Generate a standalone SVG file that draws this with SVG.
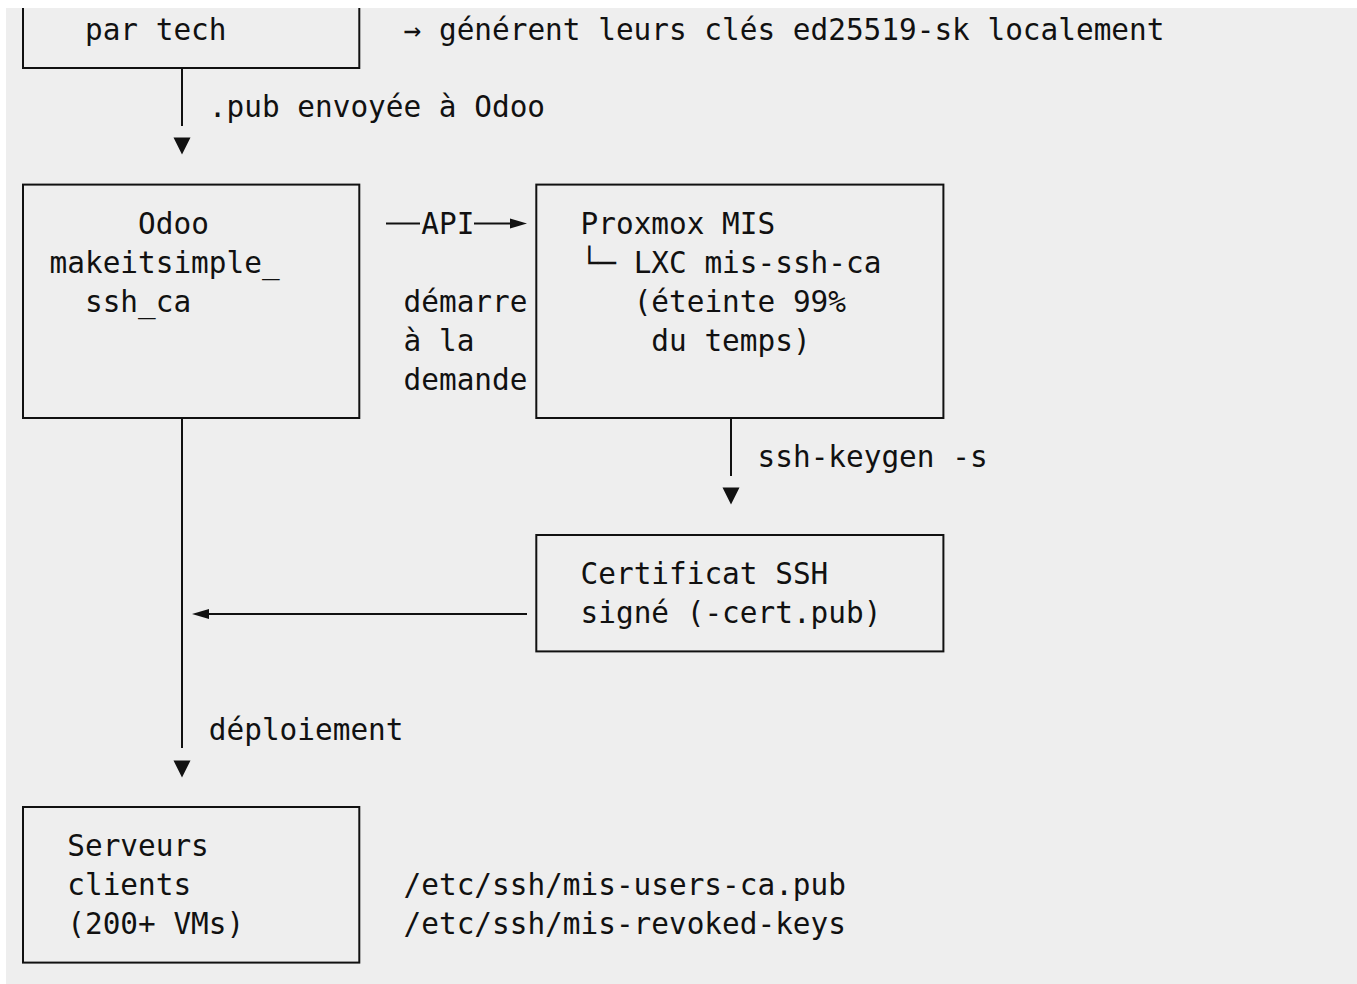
<svg xmlns="http://www.w3.org/2000/svg" width="1357" height="984" viewBox="0 0 1357 984">
<style>
.t{font-family:"DejaVu Sans Mono","Liberation Mono",monospace;font-size:29.4px;fill:#111;}
.b{fill:none;stroke:#111;stroke-width:2;}
.c{fill:none;stroke:#111;stroke-width:2;}
.h{fill:#111;stroke:none;}
</style>
<defs>
<path id="down" d="M-8.5,-8.5 L8.5,-8.5 L0,8.5 Z"/>
</defs>
<rect x="0" y="0" width="1357" height="984" fill="#ffffff"/>
<rect x="6" y="8" width="1351" height="976" fill="#eeeeee"/>

<g id="node-tech">
<path class="b" d="M23,8 V67.9 H359.3 V8"/>
<text class="t" x="84.95" y="39.5">par tech</text>
</g>
<g id="note-keys">
<text class="t" x="403.55" y="39.5">→ générent leurs clés ed25519-sk localement</text>
</g>

<g id="node-odoo">
<rect class="b" x="23" y="184.6" width="336.3" height="233.4"/>
<text class="t" x="138.05" y="234">Odoo</text>
<text class="t" x="49.55" y="272.9">makeitsimple_</text>
<text class="t" x="84.95" y="311.8">ssh_ca</text>
</g>

<g id="node-proxmox">
<rect class="b" x="536.3" y="184.6" width="407.1" height="233.4"/>
<text class="t" x="580.55" y="234">Proxmox MIS</text>
<text class="t" x="580.55" y="272.9">└─ LXC mis-ssh-ca</text>
<text class="t" x="633.65" y="311.8">(éteinte 99%</text>
<text class="t" x="651.35" y="350.7">du temps)</text>
</g>

<g id="node-cert">
<rect class="b" x="536.3" y="535" width="407.1" height="116.4"/>
<text class="t" x="580.55" y="584.1">Certificat SSH</text>
<text class="t" x="580.55" y="623">signé (-cert.pub)</text>
</g>

<g id="node-servers">
<rect class="b" x="23" y="807" width="336.3" height="155.6"/>
<text class="t" x="67.25" y="856.4">Serveurs</text>
<text class="t" x="67.25" y="895.3">clients</text>
<text class="t" x="67.25" y="934.2">(200+ VMs)</text>
</g>
<g id="note-files">
<text class="t" x="403.55" y="895.3">/etc/ssh/mis-users-ca.pub</text>
<text class="t" x="403.55" y="934.2">/etc/ssh/mis-revoked-keys</text>
</g>

<g id="connectors">
<!-- tech -> odoo -->
<path class="c" d="M182,67.9 V126"/>
<use href="#down" class="h" x="182" y="146"/>
<text class="t" x="208.85" y="117.3">.pub envoyée à Odoo</text>
<!-- odoo -> proxmox (API) -->
<path class="c" d="M386,223.5 H420"/>
<path class="c" d="M474,223.5 H512"/>
<path class="h" d="M510,218.5 L527,223.5 L510,228.5 Z"/>
<text class="t" x="421.25" y="234">API</text>
<text class="t" x="403.55" y="311.8">démarre</text>
<text class="t" x="403.55" y="350.7">à la</text>
<text class="t" x="403.55" y="389.6">demande</text>
<!-- proxmox -> cert -->
<path class="c" d="M731,418 V476"/>
<use href="#down" class="h" x="731" y="496"/>
<text class="t" x="757.55" y="467.4">ssh-keygen -s</text>
<!-- cert -> odoo line -->
<path class="c" d="M527,614 H206"/>
<path class="h" d="M192,614 L209,609 L209,619 Z"/>
<!-- odoo -> servers -->
<path class="c" d="M182,418 V748"/>
<use href="#down" class="h" x="182" y="769"/>
<text class="t" x="208.85" y="739.7">déploiement</text>
</g>
</svg>
